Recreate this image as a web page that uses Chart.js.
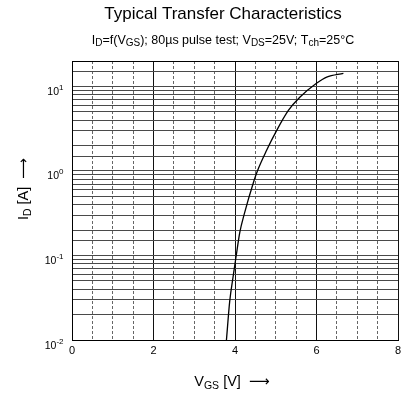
<!DOCTYPE html>
<html>
<head>
<meta charset="utf-8">
<script src="https://cdn.jsdelivr.net/npm/chart.js@4"></script>
<style>
  html, body { margin: 0; padding: 0; background: #fff; }
  #wrap { width: 409px; height: 402px; position: relative; }
</style>
</head>
<body>
<div id="wrap"><canvas id="ctx"></canvas></div>
<script>
// curve
const vgs = [3.79, 3.87, 3.96, 4.03, 4.12, 4.22, 4.46, 4.55, 4.77, 5.02, 5.31, 5.59, 6.0, 6.25, 6.66];
const idA = [0.01, 0.0286, 0.059, 0.1, 0.19, 0.30, 0.75, 1.0, 1.73, 3.0, 5.2, 7.45, 10.9, 12.9, 14.3];

// y tick labels: 10^exp
const decades = [0.01, 0.1, 1, 10];
const decadeExp = ['-2', '-1', '0', '1'];

const FONT = '"Liberation Sans", Arial, "DejaVu Sans", sans-serif';

// text pieces: [text, subscript?]
const titleText = 'Typical Transfer Characteristics';
const subtitleParts = [['I', 0], ['D', 1], ['=f(V', 0], ['GS', 1], ['); 80µs pulse test; V', 0], ['DS', 1], ['=25V; T', 0], ['ch', 1], ['=25°C', 0]];
const xTitleParts = [['V', 0], ['GS', 1], [' [V]  ⟶', 0]];
const yTitleParts = [['I', 0], ['D', 1], [' [A]  ⟶', 0]];

function richWidth(c, parts, size, sub) {
  let w = 0;
  parts.forEach(p => {
    c.font = (p[1] ? sub : size) + 'px ' + FONT;
    w += c.measureText(p[0]).width;
  });
  return w;
}

function drawRich(c, parts, x, y, size, sub) {
  // x is the centre, y the baseline
  let cx = x - richWidth(c, parts, size, sub) / 2;
  c.textAlign = 'left';
  c.textBaseline = 'alphabetic';
  parts.forEach(p => {
    c.font = (p[1] ? sub : size) + 'px ' + FONT;
    c.fillText(p[0], cx, p[1] ? y + size * 0.22 : y);
    cx += c.measureText(p[0]).width;
  });
}

const textPlugin = {
  id: 'texts',
  afterDraw(chart) {
    const c = chart.ctx;
    const y = chart.scales.y;
    c.save();
    c.fillStyle = '#000';

    c.font = '17px ' + FONT;
    c.textAlign = 'center';
    c.textBaseline = 'alphabetic';
    c.fillText(titleText, 223, 19);
    drawRich(c, subtitleParts, 223, 43.5, 12.5, 10);

    // y tick labels with superscript exponent
    decades.forEach((v, i) => {
      const py = y.getPixelForValue(v);
      c.font = '8px ' + FONT;
      const ew = c.measureText(decadeExp[i]).width;
      c.textAlign = 'left';
      c.fillText(decadeExp[i], 63.5 - ew, py + 3.5);
      c.font = '10.5px ' + FONT;
      c.textAlign = 'right';
      c.fillText('10', 63.5 - ew, py + 8.5);
    });

    drawRich(c, xTitleParts, 232, 386, 14.5, 10.5);

    c.translate(28, 189);
    c.rotate(-Math.PI / 2);
    drawRich(c, yTitleParts, 0, 0, 14.5, 10.5);
    c.restore();
  }
};

new Chart(document.getElementById('ctx'), {
  type: 'line',
  data: {
    datasets: [{
      data: vgs.map((x, i) => ({ x: x, y: idA[i] })),
      borderColor: '#000',
      borderWidth: 1.3,
      pointRadius: 0,
      fill: false,
      cubicInterpolationMode: 'monotone'
    }]
  },
  options: {
    responsive: true,
    maintainAspectRatio: false,
    animation: false,
    layout: { padding: { top: 61, right: 11, left: 0, bottom: 0 } },
    plugins: { legend: { display: false }, tooltip: { enabled: false } },
    scales: {
      x: {
        type: 'linear',
        min: 0,
        max: 8,
        ticks: { stepSize: 2, padding: 4, color: '#000', font: { family: FONT, size: 11 } },
        grid: { color: '#111', lineWidth: 1, drawTicks: false },
        border: { color: '#000' },
        afterFit: s => { s.height = 62; }
      },
      x2: {
        type: 'linear',
        position: 'bottom',
        min: 0,
        max: 8,
        ticks: { stepSize: 0.5, display: false },
        grid: {
          drawTicks: false,
          color: c => (c.tick && c.tick.value % 2 === 0) ? 'rgba(0,0,0,0)' : '#666'
        },
        border: { display: false, dash: [3, 2] },
        afterFit: s => { s.height = 0; }
      },
      y: {
        type: 'logarithmic',
        min: 0.01,
        max: 20,
        ticks: { display: false, autoSkip: false },
        grid: {
          drawTicks: false,
          color: c => (c.tick && c.tick.value === 20) ? '#000' : '#4a4a4a'
        },
        border: { color: '#000' },
        afterFit: s => { s.width = 72; }
      }
    }
  },
  plugins: [textPlugin]
});
</script>
</body>
</html>
